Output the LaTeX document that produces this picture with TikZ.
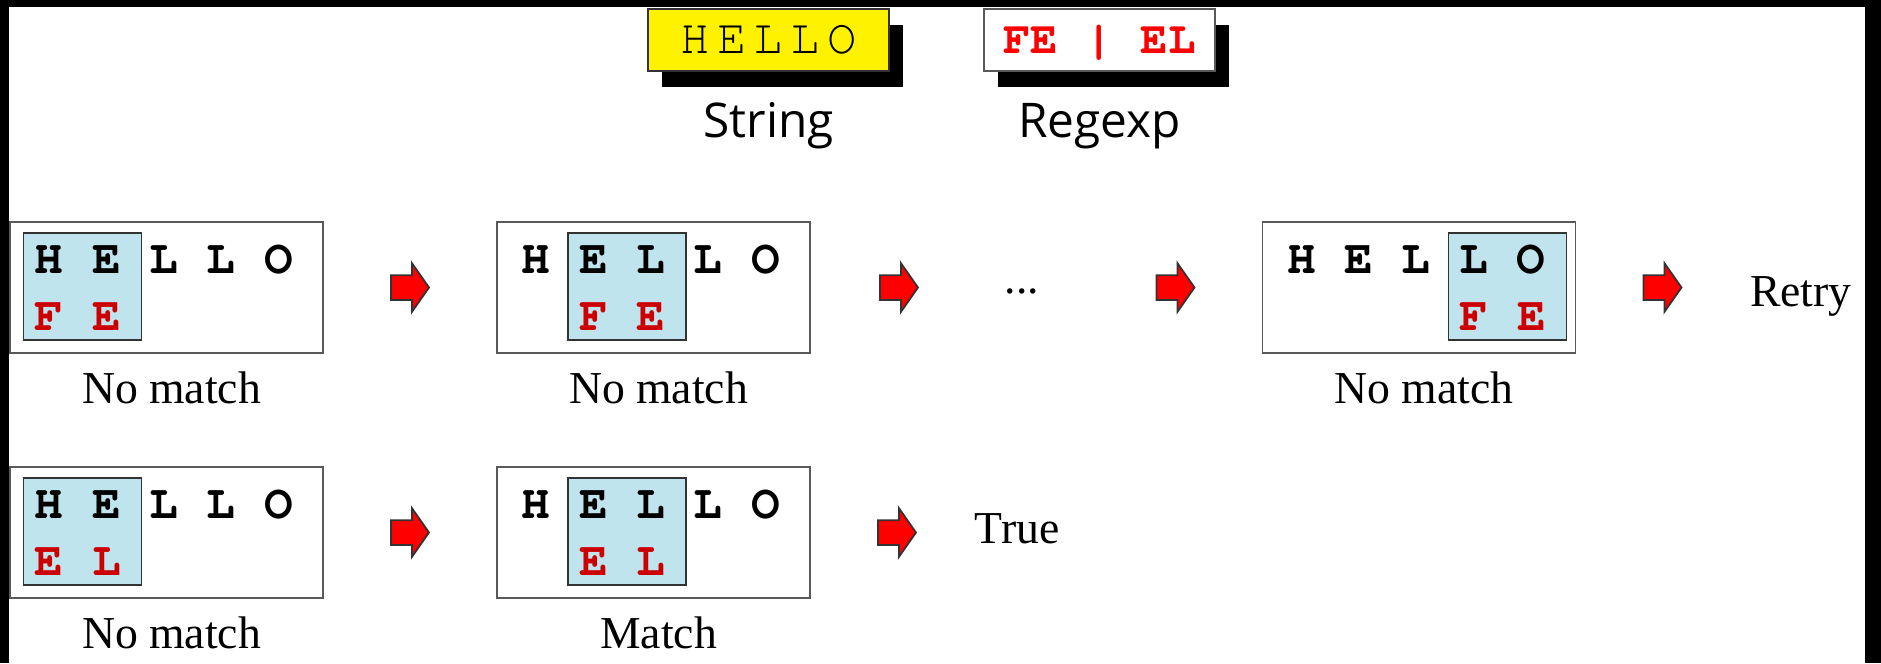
\documentclass[tikz,border=0pt]{standalone}
\usepackage[T1]{fontenc}
\usepackage{fontspec}
\setmainfont{Liberation Serif}
\newfontfamily\capfont{Open Sans}
\newcommand{\courier}{\fontencoding{T1}\fontfamily{pcr}\selectfont}
\usetikzlibrary{shapes.arrows, shadows, positioning}

\definecolor{hiblue}{RGB}{192,228,237}
\definecolor{darkred}{RGB}{204,0,0}

\tikzset{
  strbox/.style={draw=black!65, line width=0.55pt, fill=white, minimum width=3.13cm,
    minimum height=1.31cm, inner sep=0pt, outer sep=0pt},
  hibox/.style={draw=black!80, line width=0.45pt, fill=hiblue, minimum width=1.18cm,
    minimum height=1.07cm, inner sep=0pt},
  chars/.style={font=\courier\bfseries\fontsize{13.6}{16}\selectfont, anchor=base west, inner sep=0pt},
  regchars/.style={chars, text=darkred},
  result/.style={font=\fontsize{13}{15}\selectfont, inner sep=0pt},
  blockarrow/.style={single arrow, draw=black!80, fill=red, line width=0.5pt,
    minimum height=0.38cm, inner xsep=0pt, inner ysep=0.115cm,
    single arrow head extend=0.12cm, single arrow tip angle=110, outer sep=0pt},
  topbox/.style={line width=0.5pt, minimum height=0.62cm, inner sep=0pt, text height=0.27cm,
    text depth=0pt, drop shadow={shadow xshift=0.14cm, shadow yshift=-0.16cm, fill=black, opacity=1}},
  toplabel/.style={font=\capfont\fontsize{13.6}{16}\selectfont, anchor=base},
}

% one try of the pattern against the string
% #1 name, #2 placement, #3 offset of the pattern, #4 pattern, #5 outcome
\newcommand{\strpanel}[5]{%
  \node[strbox, #2] (#1) {};
  \node[hibox] (#1-hi) at ([xshift={0.725cm+0.575cm*#3}, yshift=-0.645cm]#1.north west) {};
  \node[chars] (#1-str) at ([xshift=0.24cm, yshift=-0.517cm]#1.north west) {H E L L O};
  \node[regchars] (#1-re) at ([xshift={0.24cm+0.575cm*#3}, yshift=-1.087cm]#1.north west) {#4};
  \node[result, anchor=base] (#1-lbl) at ([xshift=0.05cm, yshift=-0.50cm]#1.south) {#5};
}

\begin{document}
\begin{tikzpicture}
  % page with black frame
  \useasboundingbox (0,0) rectangle (18.81,-6.63);
  \fill[black] (0,0) rectangle (18.81,-6.63);
  \fill[white] (0.09,-0.07) rectangle (18.65,-6.63);

  % string and pattern
  \node[topbox, draw=black!80, fill=yellow, minimum width=2.41cm,
    font=\courier\fontsize{13.9}{16}\selectfont]
    (string) at (7.685,-0.40) {H\kern0.075cm E\kern0.075cm L\kern0.075cm L\kern0.075cm O};
  \node[topbox, draw=black!65, fill=white, minimum width=2.31cm, text=red,
    font=\courier\bfseries\fontsize{13}{15}\selectfont]
    (regexp) at (10.995,-0.40) {FE | EL};
  \node[toplabel] (string-lbl) at ([yshift=-0.66cm]string.south) {String};
  \node[toplabel] (regexp-lbl) at ([yshift=-0.66cm]regexp.south) {Regexp};

  % first alternative
  \strpanel{box1}{at={(1.665,-2.875)}}{0}{F E}{No match}
  \node[blockarrow, right=0.68cm of box1] (a1) {};
  \strpanel{box2}{right=0.68cm of a1}{1}{F E}{No match}
  \node[blockarrow, right=0.70cm of box2] (a2) {};
  \strpanel{box3}{at={(14.19,-2.875)}}{3}{F E}{No match}
  \node[blockarrow, left=0.68cm of box3] (a3) {};
  \node[result, anchor=base] (dots) at ([xshift=1.04cm, yshift=-0.06cm]a2.east) {...};
  \node[blockarrow, right=0.68cm of box3] (a4) {};
  \node[result, anchor=base west] (retry) at ([xshift=0.68cm, yshift=-0.19cm]a4.east) {Retry};

  % second alternative
  \strpanel{box4}{at={(1.665,-5.325)}}{0}{E L}{No match}
  \node[blockarrow, right=0.68cm of box4] (a5) {};
  \strpanel{box5}{right=0.68cm of a5}{1}{E L}{Match}
  \node[blockarrow, right=0.68cm of box5] (a6) {};
  \node[result, anchor=base west] (true) at ([xshift=0.58cm, yshift=-0.11cm]a6.east) {True};
\end{tikzpicture}
\end{document}
